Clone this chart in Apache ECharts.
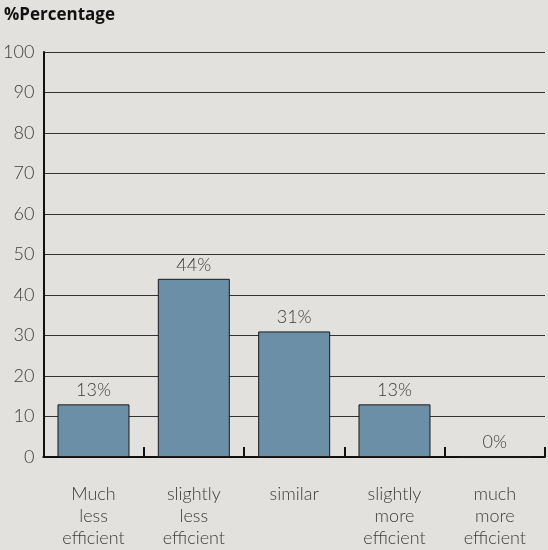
<!DOCTYPE html>
<html>
<head>
<meta charset="utf-8">
<script src="https://cdn.jsdelivr.net/npm/echarts@6/dist/echarts.min.js"></script>
<style>
  html, body { margin: 0; padding: 0; background: #e2e1dd; }
  #chart { width: 548px; height: 550px; }
</style>
</head>
<body>
<div id="chart"></div>
<script>
// Efficiency comparison categories and their shares
const categories = ['Much\nless\nefficient', 'slightly\nless\nefficient', 'similar', 'slightly\nmore\nefficient', 'much\nmore\nefficient'];
const percentages = [13, 44, 31, 13, 0];
const yTicks = [0, 10, 20, 30, 40, 50, 60, 70, 80, 90, 100];

const textFont = 'Lato, "Open Sans", sans-serif';
const textColor = '#3c3c3c';
const textWeight = 300;

const chart = echarts.init(document.getElementById('chart'), null, { renderer: 'canvas' });
chart.setOption({
  backgroundColor: '#e2e1dd',
  animation: false,
  title: {
    text: '%Percentage',
    left: 4,
    top: 7,
    padding: 0,
    textStyle: { fontFamily: '"Open Sans", Lato, sans-serif', fontWeight: 'bold', fontSize: 17, color: '#111' }
  },
  grid: { left: 43, right: 3, top: 52, bottom: 93, containLabel: false },
  xAxis: {
    type: 'category',
    data: categories,
    boundaryGap: true,
    axisLine: { lineStyle: { color: '#111', width: 2 } },
    axisTick: { show: true, inside: true, length: 10, lineStyle: { color: '#111', width: 2 } },
    axisLabel: {
      interval: 0,
      margin: 26,
      fontFamily: textFont,
      fontWeight: textWeight,
      fontSize: 18,
      lineHeight: 22,
      color: textColor,
      align: 'center'
    }
  },
  yAxis: {
    type: 'value',
    min: yTicks[0],
    max: yTicks[yTicks.length - 1],
    interval: yTicks[1] - yTicks[0],
    axisLine: { show: true, lineStyle: { color: '#111', width: 2 } },
    axisTick: { show: false },
    axisLabel: { margin: 9, fontFamily: textFont, fontWeight: textWeight, fontSize: 18, color: textColor },
    splitLine: { lineStyle: { color: '#333', width: 1 } }
  },
  series: [{
    type: 'bar',
    data: percentages,
    barWidth: 72,
    itemStyle: { color: '#6a8fa6', borderColor: '#1a1a1a', borderWidth: 1 },
    label: {
      show: true,
      position: 'top',
      distance: 5,
      formatter: '{c}%',
      fontFamily: textFont,
      fontWeight: textWeight,
      fontSize: 18,
      color: textColor
    }
  }]
});
</script>
</body>
</html>
